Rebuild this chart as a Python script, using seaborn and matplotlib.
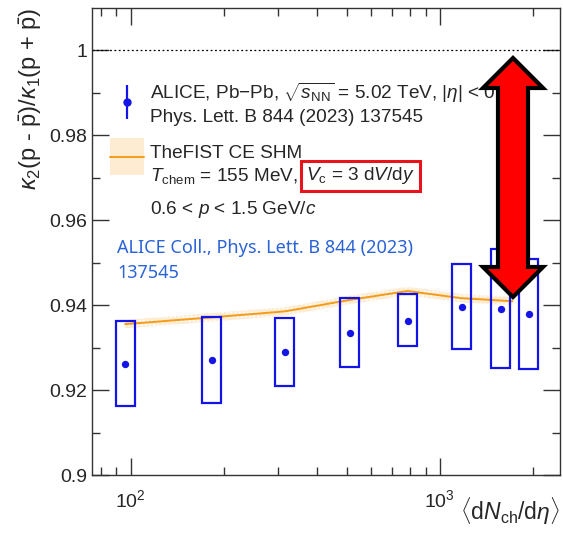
import matplotlib
matplotlib.use("Agg")
import matplotlib.pyplot as plt
import seaborn as sns
import pandas as pd
import numpy as np
from matplotlib.patches import Rectangle, Polygon

# ALICE data: kappa2/kappa1 vs <dNch/deta>
mult = [96, 183, 315, 512, 787, 1178, 1575, 1940]
ratio = [0.9261, 0.9271, 0.9289, 0.9334, 0.9362, 0.9395, 0.9391, 0.9379]
sys_hi = [0.9362, 0.9372, 0.9370, 0.9417, 0.9426, 0.9497, 0.9532, 0.9508]
sys_lo = [0.9162, 0.9170, 0.9210, 0.9254, 0.9304, 0.9297, 0.9252, 0.9249]

# Thermal-FIST CE SHM curve
fist_mult = [96, 183, 315, 512, 787, 1178, 1720]
fist_val = [0.9355, 0.9371, 0.9385, 0.9412, 0.9433, 0.9416, 0.9409]
fist_err = 0.0010

df = pd.DataFrame({"mult": mult, "ratio": ratio})
df_fist = pd.DataFrame({"mult": fist_mult, "val": fist_val})

sns.set_theme(style="ticks")
plt.rcParams["font.family"] = ["Liberation Sans", "DejaVu Sans"]
plt.rcParams["mathtext.fontset"] = "custom"
plt.rcParams["mathtext.rm"] = "Liberation Sans"
plt.rcParams["mathtext.it"] = "Liberation Sans:italic"
plt.rcParams["mathtext.bf"] = "Liberation Sans:bold"
plt.rcParams["hatch.color"] = "#f6c783"
plt.rcParams["hatch.linewidth"] = 1.0

blue = "#1414e6"
orange = "#f39c1a"
band_face = "#fdebd2"

fig = plt.figure(figsize=(5.63, 5.36), dpi=100)
ax = fig.add_axes([92 / 563, 1 - 475 / 536, 468 / 563, 467 / 536])
ax.set_xscale("log")

# systematic boxes (fixed width in log space)
hw = 0.031
for x, lo, hi in zip(mult, sys_lo, sys_hi):
    x0 = x * 10 ** (-hw)
    x1 = x * 10 ** hw
    ax.add_patch(Rectangle((x0, lo), x1 - x0, hi - lo, fill=False,
                           edgecolor=blue, lw=1.6, zorder=3))

# model band + line
lo_band = [v - fist_err for v in fist_val]
hi_band = [v + fist_err for v in fist_val]
ax.fill_between(fist_mult, lo_band, hi_band, facecolor=band_face, hatch="....",
                edgecolor="none", lw=0, zorder=1)
sns.lineplot(data=df_fist, x="mult", y="val", color=orange, lw=1.4, ax=ax, zorder=2)

sns.scatterplot(data=df, x="mult", y="ratio", color=blue, s=28, edgecolor=blue,
                linewidth=0, ax=ax, zorder=4)

ax.axhline(1.0, color="black", ls=(0, (1.5, 2)), lw=0.9, zorder=1)

ax.set_xlim(75, 2450)
ax.set_ylim(0.9, 1.0099)
ax.set_yticks([0.9, 0.92, 0.94, 0.96, 0.98, 1.0])
ax.set_yticklabels(["0.9", "0.92", "0.94", "0.96", "0.98", "1"])
ax.set_yticks(np.arange(0.91, 1.01, 0.02), minor=True)
ax.set_xticks([100, 1000])
ax.set_xticklabels(["$10^2$", "$10^3$"])
ax.tick_params(which="both", direction="in", top=True, right=True, labelsize=14,
               color="#333333")
ax.tick_params(which="major", length=12, width=1)
ax.tick_params(which="minor", length=6, width=1)
ax.tick_params(axis="x", which="major", pad=10)
for s in ax.spines.values():
    s.set_linewidth(1.0)
    s.set_color("#333333")

ax.set_xlabel(r"$\langle \mathrm{d}N_{\mathrm{ch}}/\mathrm{d}\eta \rangle$",
              fontsize=16.5, loc="right", labelpad=-11)
ax.set_ylabel(r"$\kappa_2(\mathrm{p}$ - $\bar{\mathrm{p}})/\kappa_1(\mathrm{p}$ + $\bar{\mathrm{p}})$",
              fontsize=17, loc="top", labelpad=4)


def fx(px):
    return (px - 92) / 468


def fy(py):
    return (475 - py) / 467


T = ax.transAxes
fs = 13.7
# legend: ALICE
ax.errorbar([fx(127)], [fy(102)], yerr=[[fy(85) - fy(102)]], fmt="o", color=blue,
            ms=5, elinewidth=1.6, capsize=0, transform=T, zorder=5, clip_on=False)
ax.text(fx(150), fy(93), r"ALICE, Pb$-$Pb, $\sqrt{s_{\mathrm{NN}}}$ = 5.02 TeV, $|\eta|$ < 0.8",
        transform=T, fontsize=fs, va="center", ha="left", zorder=5)
ax.text(fx(150), fy(118), "Phys. Lett. B 844 (2023) 137545", transform=T, fontsize=fs,
        va="center", ha="left", zorder=5)
# legend: FIST
ax.add_patch(Rectangle((fx(110), fy(175)), fx(144) - fx(110), fy(138) - fy(175),
                       transform=T, facecolor=band_face, hatch="....", edgecolor="none",
                       lw=0, zorder=5))
ax.plot([fx(110), fx(144)], [fy(157), fy(157)], color=orange, lw=1.4, transform=T, zorder=6)
ax.text(fx(150), fy(153), "TheFIST CE SHM", transform=T, fontsize=fs,
        va="center", ha="left", zorder=5)
ax.text(fx(150), fy(176), r"$T_{\mathrm{chem}}$ = 155 MeV,", transform=T, fontsize=fs,
        va="center", ha="left", zorder=5)
ax.text(fx(306), fy(176), r"$V_{\mathrm{c}}$ = 3 d$V$/d$y$", transform=T, fontsize=fs,
        va="center", ha="left", zorder=5,
        bbox=dict(boxstyle="square,pad=0.25", facecolor="none", edgecolor="#e8141c", lw=2.2))
ax.text(fx(150), fy(210), r"0.6 < $p$ < 1.5 GeV/$c$", transform=T, fontsize=fs,
        va="center", ha="left", zorder=5)
ax.text(fx(117), fy(248), "ALICE Coll., Phys. Lett. B 844 (2023)", transform=T, fontsize=13,
        va="center", ha="left", color="#2a62d8", family=["Noto Sans", "DejaVu Sans"], zorder=5)
ax.text(fx(117), fy(273), "137545", transform=T, fontsize=13,
        va="center", ha="left", color="#2a62d8", family=["Noto Sans", "DejaVu Sans"], zorder=5)

# red double arrow annotation
cx, sw, hwd = 513, 15, 30
ytop, yhead1, ybot, yhead2 = 58, 88, 297, 267
pts = [(cx, ytop), (cx + hwd, yhead1), (cx + sw, yhead1), (cx + sw, yhead2),
       (cx + hwd, yhead2), (cx, ybot), (cx - hwd, yhead2), (cx - sw, yhead2),
       (cx - sw, yhead1), (cx - hwd, yhead1)]
ax.add_patch(Polygon([(fx(a), fy(b)) for a, b in pts], closed=True, transform=T,
                     facecolor="#ff0000", edgecolor="black", lw=3, joinstyle="miter",
                     zorder=10))

fig.savefig("out.png", dpi=100)
